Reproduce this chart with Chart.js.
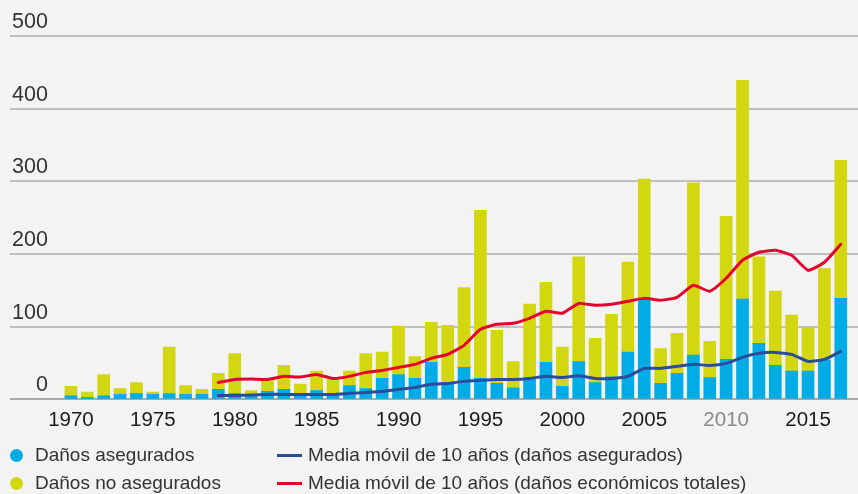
<!DOCTYPE html>
<html lang="es">
<head>
<meta charset="utf-8">
<script src="https://cdn.jsdelivr.net/npm/chart.js@4.4.1/dist/chart.umd.min.js"></script>
<style>
  html, body { margin: 0; padding: 0; background: #f3f3f3; }
  #wrap { position: relative; width: 858px; height: 494px; background: #f3f3f3; overflow: hidden; }
  #c { position: absolute; left: 0; top: 0; }
  .leg { position: absolute; font-family: "Liberation Sans", Arial, sans-serif; font-size: 19px; color: #333; }
  .row { position: absolute; height: 28px; line-height: 28px; display: flex; align-items: center; white-space: nowrap; }
  .dot { width: 13px; height: 13px; border-radius: 50%; margin-right: 12px; flex: none; }
  .ln { width: 25px; height: 3px; margin-right: 6px; flex: none; }
</style>
</head>
<body>
<div id="wrap">
  <canvas id="c" width="858" height="494"></canvas>
  <div id="legend" class="leg"></div>
</div>
<script>
// ---- Data ----
const years = [1970,1971,1972,1973,1974,1975,1976,1977,1978,1979,
               1980,1981,1982,1983,1984,1985,1986,1987,1988,1989,
               1990,1991,1992,1993,1994,1995,1996,1997,1998,1999,
               2000,2001,2002,2003,2004,2005,2006,2007,2008,2009,
               2010,2011,2012,2013,2014,2015,2016,2017];
const insured = [5,3,5,7,8,7,8,7,7,14,
                 8,6,11,14,6,12,8,19,15,29,
                 34,29,51,23,44,29,22,16,30,51,
                 18,52,23,31,65,138,22,36,61,30,
                 55,138,77,47,39,39,54,139];
const uninsured = [13,7,29,8,15,3,64,12,7,22,
                   55,6,15,33,15,27,20,20,48,36,
                   67,30,55,79,110,231,73,36,101,110,
                   54,144,61,86,124,165,48,55,237,50,
                   197,301,119,102,77,59,126,190];
const maYears = [1979,1980,1981,1982,1983,1984,1985,1986,1987,1988,
                 1989,1990,1991,1992,1993,1994,1995,1996,1997,1998,
                 1999,2000,2001,2002,2003,2004,2005,2006,2007,2008,
                 2009,2010,2011,2012,2013,2014,2015,2016,2017];
const maInsured = [5.5,5.5,6,6.9,6.9,6.9,6.9,6.9,8.3,9.6,
                   11,13.8,16.5,20.7,22,24.8,26.2,27.5,27.5,28.9,
                   31.7,30.3,32.5,28.9,28.9,31.7,42.7,42.7,45.5,48.2,
                   46.8,49.6,57.9,63.4,64.7,62,52.3,55.1,66.1];
const maTotal = [23.4,27.5,28,27.5,31.7,30.8,34.4,28.9,31.7,37.2,
                 39.9,44,48.2,56.5,62,74.4,96.4,103.3,104.7,111.6,
                 121.2,118.5,132,129.5,130.9,135,139,136.4,140.5,157,
                 148.8,166.7,191.5,202.5,205.2,198.3,177.7,188.7,213.5];
const xTicks = [1970,1975,1980,1985,1990,1995,2000,2005,2010,2015];
const yTicks = [0,100,200,300,400,500];
const seriesLabels = ["Daños asegurados", "Daños no asegurados",
  "Media móvil de 10 años (daños asegurados)",
  "Media móvil de 10 años (daños económicos totales)"];

// ---- Styles ----
const COL_INS = '#00ace6', COL_UNINS = '#d3d70f', COL_MA_INS = '#2b4b9b', COL_MA_TOT = '#e4032e';

Chart.defaults.font.family = '"Liberation Sans", Arial, sans-serif';
Chart.defaults.animation = false;

const pts = (xs, ys) => xs.map((x, i) => ({x: x, y: ys[i]}));

const chart = new Chart(document.getElementById('c'), {
  type: 'bar',
  data: {
    datasets: [
      { type: 'bar', label: seriesLabels[0], data: pts(years, insured), backgroundColor: COL_INS,
        barThickness: 12, order: 2, stack: 'dmg' },
      { type: 'bar', label: seriesLabels[1], data: pts(years, uninsured), backgroundColor: COL_UNINS,
        barThickness: 12, order: 2, stack: 'dmg' },
      { type: 'line', label: seriesLabels[2], data: pts(maYears, maInsured), borderColor: COL_MA_INS,
        borderWidth: 3, pointRadius: 0, tension: 0.15, order: 0, stack: 'ma1',
        borderJoinStyle: 'round', borderCapStyle: 'round' },
      { type: 'line', label: seriesLabels[3], data: pts(maYears, maTotal), borderColor: COL_MA_TOT,
        borderWidth: 3, pointRadius: 0, tension: 0.15, order: 1, stack: 'ma2',
        borderJoinStyle: 'round', borderCapStyle: 'round' }
    ]
  },
  options: {
    responsive: false,
    maintainAspectRatio: false,
    layout: { padding: { left: 6, right: 0, top: 36, bottom: 52 } },
    plugins: { legend: { display: false }, tooltip: { enabled: false } },
    scales: {
      x: {
        type: 'linear', stacked: true, offset: false, min: 1966.28, max: 2018.05,
        grid: { display: false, drawTicks: false }, border: { display: false },
        afterBuildTicks: s => { s.ticks = xTicks.map(v => ({value: v})); },
        ticks: {
          autoSkip: false, maxRotation: 0, padding: 9,
          font: { size: 20.5 },
          color: ctx => (ctx.tick && ctx.tick.value === 2010) ? '#8a8a8a' : '#1c1c1c',
          callback: v => String(v)
        }
      },
      y: {
        stacked: true, min: 0, max: 500,
        afterBuildTicks: s => { s.ticks = yTicks.map(v => ({value: v})); },
        border: { display: false },
        grid: {
          drawTicks: false,
          color: ctx => (ctx.tick && ctx.tick.value === 0) ? '#a9a9a9' : '#c0c0c0',
          lineWidth: 2
        },
        ticks: {
          mirror: true, crossAlign: 'far', padding: 2, labelOffset: -14,
          font: { size: 21.5 }, color: '#333',
          callback: v => String(v)
        }
      }
    }
  }
});

// ---- HTML legend built from the datasets ----
const leg = document.getElementById('legend');
const ds = chart.data.datasets;
const layout = [
  { i: 0, left: 10, top: 441 }, { i: 1, left: 10, top: 469 },
  { i: 2, left: 277, top: 441 }, { i: 3, left: 277, top: 469 }
];
layout.forEach(p => {
  const d = ds[p.i];
  const row = document.createElement('div');
  row.className = 'row';
  row.style.left = p.left + 'px';
  row.style.top = p.top + 'px';
  const m = document.createElement('span');
  if (d.type === 'bar') { m.className = 'dot'; m.style.background = d.backgroundColor; }
  else { m.className = 'ln'; m.style.background = d.borderColor; }
  const t = document.createElement('span');
  t.textContent = d.label;
  row.appendChild(m); row.appendChild(t);
  leg.appendChild(row);
});
</script>
</body>
</html>
